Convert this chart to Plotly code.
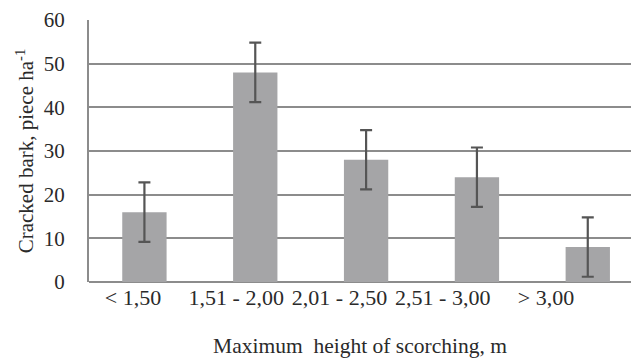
import plotly.graph_objects as go

categories = ["< 1,50", "1,51 - 2,00", "2,01 - 2,50", "2,51 - 3,00", "> 3,00"]
values = [16, 48, 28, 24, 8]
errors = [6.8, 6.8, 6.8, 6.8, 6.8]
y_ticks = [0, 10, 20, 30, 40, 50, 60]

FONT = "Liberation Serif, Times New Roman, serif"
FS = 21
TXT = "#2a2a2a"

fig = go.Figure()
fig.add_trace(go.Bar(
    x=list(range(len(categories))),
    y=values,
    width=0.4,
    marker=dict(color="#a5a5a7", line=dict(width=0)),
    error_y=dict(type="data", array=errors, visible=True,
                 color="#555555", thickness=2.2, width=6),
    hoverinfo="skip",
))
# invisible helper trace carrying the category labels on a secondary axis
fig.add_trace(go.Scatter(
    x=list(range(len(categories))), y=[None] * len(categories),
    xaxis="x2", yaxis="y", mode="markers", showlegend=False, hoverinfo="skip",
))

fig.update_layout(
    width=631, height=358,
    margin=dict(l=89, r=0, t=20, b=76),
    paper_bgcolor="white", plot_bgcolor="white",
    showlegend=False,
    font=dict(family=FONT, size=FS, color=TXT),
    bargap=0.6,
    xaxis=dict(
        range=[-0.5, 4.39],
        showgrid=False, showline=False, zeroline=False,
        showticklabels=False, ticks="",
        automargin=False,
        title=dict(text="Maximum  height of scorching, m",
                   font=dict(family=FONT, size=21.5, color=TXT), standoff=56),
    ),
    xaxis2=dict(
        overlaying="x", side="bottom", anchor="y",
        tickmode="array",
        tickvals=list(range(len(categories))),
        ticktext=categories,
        range=[-0.426, 4.823],
        showgrid=False, showline=False, zeroline=False,
        ticks="",
        automargin=False,
        tickfont=dict(family=FONT, size=22, color=TXT),
    ),
    yaxis=dict(
        range=[0, 60],
        tickmode="array",
        tickvals=y_ticks,
        showgrid=True, gridcolor="#8c8c8c", gridwidth=2,
        zeroline=True, zerolinecolor="#8c8c8c", zerolinewidth=2,
        showline=True, linecolor="#8c8c8c", linewidth=2,
        ticks="outside", ticklen=18, tickcolor="rgba(0,0,0,0)",
        automargin=False,
        tickfont=dict(family=FONT, size=FS, color=TXT),
        title=dict(text="Cracked bark, piece ha<sup>-1</sup>",
                   font=dict(family=FONT, size=FS, color=TXT), standoff=4),
    ),
)

fig.write_html("out.html", config={"displayModeBar": False},
               post_script="document.body.style.margin='0px';")
